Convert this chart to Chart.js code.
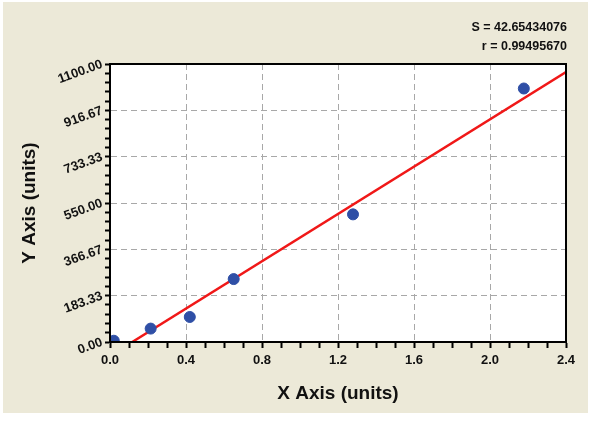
<!DOCTYPE html>
<html>
<head>
<meta charset="utf-8">
<script src="https://cdn.jsdelivr.net/npm/chart.js@4/dist/chart.umd.min.js"></script>
<style>
  html, body { margin: 0; padding: 0; background: #ffffff; }
  #wrap { position: relative; width: 600px; height: 423px; }
</style>
</head>
<body>
<div id="wrap"><canvas id="c" width="600" height="423"></canvas></div>
<script>
// ---- data ----
const pointX = [0.02, 0.214, 0.42, 0.651, 1.279, 2.178];
const pointY = [5, 53, 99, 249, 505, 1003];
const fitX = [0.117, 2.4];
const fitY = [0, 1068];
const xTickLabels = ['0.0', '0.4', '0.8', '1.2', '1.6', '2.0', '2.4'];
const yTickLabels = ['0.00', '183.33', '366.67', '550.00', '733.33', '916.67', '1100.00'];
const statLines = ['S = 42.65434076', 'r = 0.99495670'];
const xTitle = 'X Axis (units)';
const yTitle = 'Y Axis (units)';

const X_MIN = 0, X_MAX = 2.4, X_MINOR_PER_MAJOR = 4;
const Y_MIN = 0, Y_MAX = 1100, Y_MINOR_PER_MAJOR = 5;

const FONT = "'Liberation Sans', Arial, sans-serif";

function minorTicks(min, max, majors, perMajor) {
  const n = (majors - 1) * perMajor;
  const out = [];
  for (let i = 0; i <= n; i++) out.push({ value: min + (max - min) * i / n });
  return out;
}

const bgPlugin = {
  id: 'bg',
  beforeDraw(chart) {
    const ctx = chart.ctx;
    ctx.save();
    ctx.fillStyle = '#ffffff';
    ctx.fillRect(0, 0, chart.width, chart.height);
    ctx.fillStyle = '#ece9d8';
    ctx.fillRect(3, 2, 585, 411);
    ctx.fillStyle = '#ffffff';
    const a = chart.chartArea;
    ctx.fillRect(a.left, a.top, a.right - a.left, a.bottom - a.top);
    ctx.restore();
  },
  afterDraw(chart) {
    const ctx = chart.ctx;
    const a = chart.chartArea;
    ctx.save();
    ctx.strokeStyle = '#000000';
    ctx.lineWidth = 2;
    ctx.strokeRect(a.left, a.top, a.right - a.left, a.bottom - a.top);
    ctx.fillStyle = '#111111';
    ctx.font = 'bold 12.5px ' + FONT;
    ctx.textAlign = 'right';
    ctx.textBaseline = 'middle';
    ctx.fillText(statLines[0], 567, 28);
    ctx.fillText(statLines[1], 567, 47);
    ctx.restore();
  }
};

new Chart(document.getElementById('c'), {
  type: 'scatter',
  data: {
    datasets: [
      {
        type: 'line',
        data: fitX.map((x, i) => ({ x: x, y: fitY[i] })),
        borderColor: '#f01818',
        borderWidth: 2.5,
        pointRadius: 0,
        fill: false,
        order: 2
      },
      {
        data: pointX.map((x, i) => ({ x: x, y: pointY[i] })),
        backgroundColor: '#2f4fa6',
        borderColor: '#2f4fa6',
        pointRadius: 5.5,
        pointStyle: 'circle',
        order: 1
      }
    ]
  },
  options: {
    responsive: false,
    animation: false,
    devicePixelRatio: 1,
    layout: { padding: { left: 0, top: 64, right: 34, bottom: 0 } },
    plugins: { legend: { display: false }, tooltip: { enabled: false } },
    scales: {
      x: {
        type: 'linear',
        min: X_MIN, max: X_MAX,
        afterBuildTicks(scale) { scale.ticks = minorTicks(X_MIN, X_MAX, xTickLabels.length, X_MINOR_PER_MAJOR); },
        afterFit(scale) { scale.height = 81; },
        grid: {
          color: c => (c.index % X_MINOR_PER_MAJOR === 0 && c.index > 0) ? '#a8a8a8' : 'rgba(0,0,0,0)',
          lineWidth: 1,
          tickColor: '#000000',
          tickWidth: 2,
          tickLength: 6,
          drawTicks: true
        },
        border: { display: true, color: '#000000', width: 2, dash: [6, 4] },
        ticks: {
          autoSkip: false,
          maxRotation: 0, minRotation: 0,
          padding: 5,
          color: '#111111',
          font: { family: FONT, size: 13, weight: 'bold' },
          callback: (v, i) => (i % X_MINOR_PER_MAJOR === 0) ? xTickLabels[i / X_MINOR_PER_MAJOR] : ''
        },
        title: {
          display: true,
          text: xTitle,
          color: '#111111',
          font: { family: FONT, size: 19, weight: 'bold' },
          padding: { top: 0, bottom: 18 }
        }
      },
      y: {
        type: 'linear',
        min: Y_MIN, max: Y_MAX,
        afterBuildTicks(scale) { scale.ticks = minorTicks(Y_MIN, Y_MAX, yTickLabels.length, Y_MINOR_PER_MAJOR); },
        afterFit(scale) { scale.width = 110; },
        grid: {
          color: c => (c.index % Y_MINOR_PER_MAJOR === 0 && c.index > 0) ? '#a8a8a8' : 'rgba(0,0,0,0)',
          lineWidth: 1,
          tickColor: '#000000',
          tickWidth: 2,
          tickLength: 5,
          drawTicks: true
        },
        border: { display: true, color: '#000000', width: 2, dash: [6, 4] },
        ticks: {
          autoSkip: false,
          minRotation: 20, maxRotation: 20,
          padding: 3,
          color: '#111111',
          font: { family: FONT, size: 13, weight: 'bold' },
          callback: (v, i) => (i % Y_MINOR_PER_MAJOR === 0) ? yTickLabels[i / Y_MINOR_PER_MAJOR] : ''
        },
        title: {
          display: true,
          text: yTitle,
          color: '#111111',
          font: { family: FONT, size: 19, weight: 'bold' },
          padding: { top: 18, bottom: 0 }
        }
      }
    }
  },
  plugins: [bgPlugin]
});
</script>
</body>
</html>
